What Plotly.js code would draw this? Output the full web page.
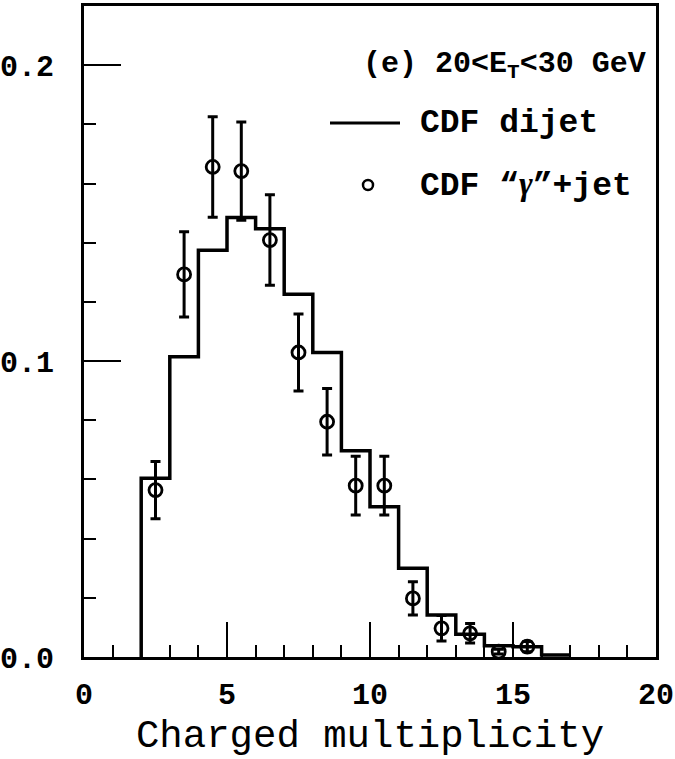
<!DOCTYPE html>
<html>
<head>
<meta charset="utf-8">
<script src="https://cdn.plot.ly/plotly-3.0.1.min.js"></script>
<style>html,body{margin:0;padding:0;background:#fff;}#chart{width:675px;height:759px;}</style>
</head>
<body>
<div id="chart"></div>
<script>
// CDF dijet histogram: bin edges and bin contents
var binEdges = [2, 3, 4, 5, 6, 7, 8, 9, 10, 11, 12, 13, 14, 15, 16, 17];
var dijetValues = [0.0604, 0.1015, 0.1375, 0.1485, 0.1447, 0.1226, 0.1029, 0.0697,
                   0.0508, 0.0300, 0.0142, 0.0077, 0.0038, 0.0035, 0.0007];

// CDF "gamma"+jet points
var gammaX = [2.5, 3.5, 4.5, 5.5, 6.5, 7.5, 8.5, 9.5, 10.5, 11.5, 12.5, 13.5, 14.5, 15.5];
var gammaY = [0.0564, 0.1293, 0.1656, 0.1642, 0.1409, 0.1029, 0.0795, 0.0579,
              0.0579, 0.0198, 0.0097, 0.0080, 0.0018, 0.0035];
var gammaErr = [0.0097, 0.0144, 0.0170, 0.0166, 0.0153, 0.0130, 0.0112, 0.0099,
                0.0099, 0.0056, 0.0043, 0.0033, 0.0008, 0.0017];

var xTickVals = [0, 5, 10, 15, 20];
var xTickText = ['0', '5', '10', '15', '20'];
var yTickVals = [0, 0.1, 0.2];
var yTickText = ['0.0', '0.1', '0.2'];

var panelLabel = '(e) 20<E<sub>T</sub><30 GeV';
var legendLabels = ['CDF dijet',
  'CDF \u201C<span style="font-family:Liberation Serif;font-style:italic">\u03B3</span>\u201D+jet'];
var xTitle = 'Charged multiplicity';

// build step outline from edges
var histX = [binEdges[0]].concat(binEdges);
var histY = [0].concat(dijetValues).concat([dijetValues[dijetValues.length - 1]]);

var traces = [
  {
    type: 'scatter', mode: 'lines', x: histX, y: histY,
    line: {shape: 'hv', color: '#000', width: 3.5},
    showlegend: false, hoverinfo: 'skip'
  },
  {
    type: 'scatter', mode: 'markers', x: gammaX, y: gammaY,
    error_y: {type: 'data', array: gammaErr, visible: true, color: '#000', thickness: 3, width: 5},
    marker: {symbol: 'circle-open', size: 13, color: '#000', line: {width: 2.8, color: '#000'}},
    showlegend: false, hoverinfo: 'skip'
  }
];

var L = 84, R = 656, T = 6, B = 657;
function px(x) { return (x - L) / (R - L); }
function py(y) { return (B - y) / (B - T); }

var mono = 'Liberation Mono, Courier New, monospace';

var layout = {
  width: 675, height: 759,
  margin: {l: L, r: 675 - R, t: T, b: 759 - B, pad: 0},
  paper_bgcolor: '#fff', plot_bgcolor: '#fff',
  showlegend: false,
  xaxis: {
    range: [0, 20], showline: true, mirror: true, linecolor: '#000', linewidth: 3,
    ticks: 'inside', ticklen: 35, tickwidth: 2, tickcolor: '#000',
    tickmode: 'array', tickvals: xTickVals, ticktext: xTickText,
    minor: {dtick: 1, ticks: 'inside', ticklen: 12, tickwidth: 2, tickcolor: '#000'},
    showgrid: false, zeroline: false,
    tickfont: {family: mono, size: 30, color: '#000', weight: 'bold'},
    ticklabelstandoff: 8,
    title: {text: xTitle, font: {family: mono, size: 39, color: '#000'}, standoff: 10}
  },
  yaxis: {
    range: [0, 0.22], showline: true, mirror: true, linecolor: '#000', linewidth: 3,
    ticks: 'inside', ticklen: 37, tickwidth: 2, tickcolor: '#000',
    tickmode: 'array', tickvals: yTickVals, ticktext: yTickText,
    minor: {dtick: 0.02, ticks: 'inside', ticklen: 12, tickwidth: 2, tickcolor: '#000'},
    showgrid: false, zeroline: false,
    tickfont: {family: mono, size: 30, color: '#000', weight: 'bold'},
    ticklabelstandoff: 21
  },
  annotations: [
    {xref: 'paper', yref: 'paper', x: px(648), y: py(65), xanchor: 'right', yanchor: 'middle',
     text: panelLabel, showarrow: false, font: {family: mono, size: 30, color: '#000', weight: 'bold'}},
    {xref: 'paper', yref: 'paper', x: px(418), y: py(123), xanchor: 'left', yanchor: 'middle',
     text: legendLabels[0], showarrow: false, font: {family: mono, size: 33, color: '#000', weight: 'bold'}},
    {xref: 'paper', yref: 'paper', x: px(418), y: py(185), xanchor: 'left', yanchor: 'middle',
     text: legendLabels[1], showarrow: false, font: {family: mono, size: 33, color: '#000', weight: 'bold'}}
  ],
  shapes: [
    {type: 'line', xref: 'paper', yref: 'paper', x0: px(330), x1: px(400), y0: py(123), y1: py(123),
     line: {color: '#000', width: 3}},
    {type: 'circle', xref: 'paper', yref: 'paper', xsizemode: 'pixel', ysizemode: 'pixel',
     xanchor: px(368), yanchor: py(185), x0: -5, x1: 5, y0: -5, y1: 5,
     line: {color: '#000', width: 2.5}}
  ]
};

Plotly.newPlot('chart', traces, layout, {staticPlot: true, displayModeBar: false});
</script>
</body>
</html>
